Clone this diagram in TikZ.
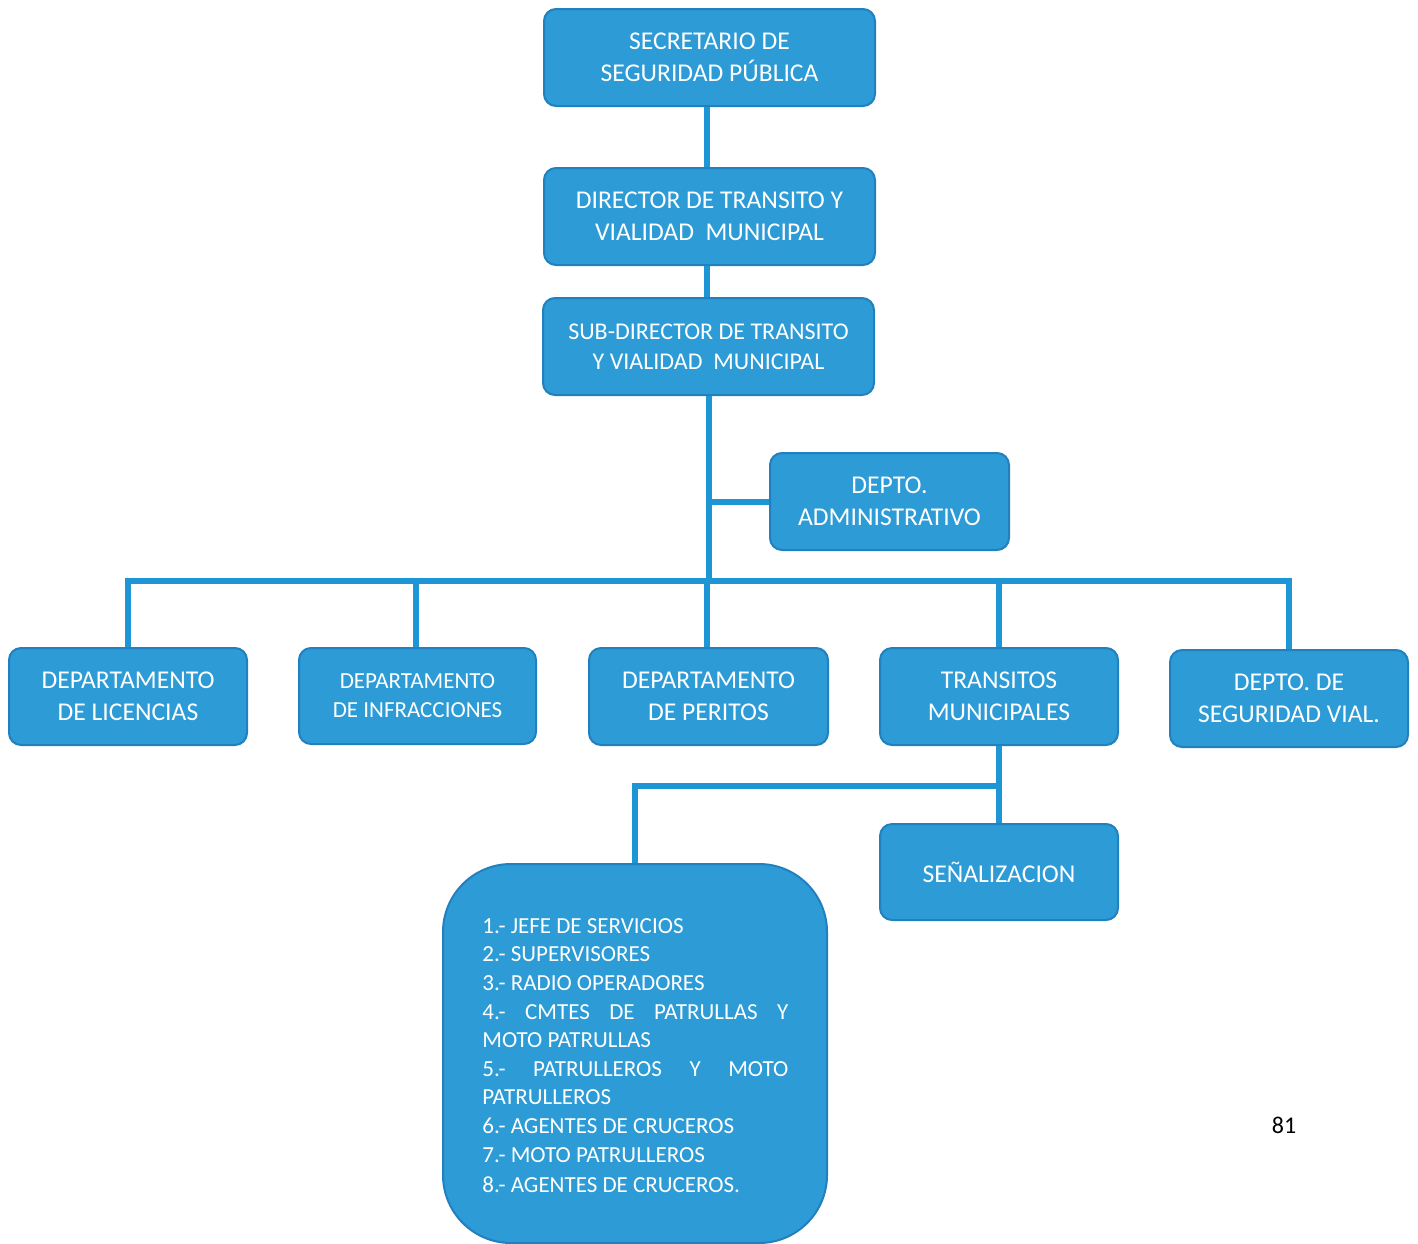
\documentclass[tikz,border=0pt]{standalone}
\usepackage{fontspec}
\setmainfont{Carlito}
\definecolor{boxfill}{RGB}{44,155,214}
\definecolor{boxdraw}{RGB}{34,128,190}
\definecolor{linkblue}{RGB}{30,150,214}
\begin{document}
\begin{tikzpicture}[x=0.5pt,y=-0.5pt,
  box/.style={draw=boxdraw, line width=1pt, fill=boxfill, rounded corners=6pt, text=white,
    align=center, inner sep=0pt, font=\fontsize{12.8}{16}\selectfont},
  link/.style={draw=linkblue, line width=3pt}]
\useasboundingbox[fill=white] (0,0) rectangle (1418,1243);
% top chain
\node[box, minimum width=165.5pt, minimum height=48.5pt] (sec) at (709.5,57.5) {SECRETARIO DE\\SEGURIDAD PÚBLICA};
\node[box, minimum width=165.5pt, minimum height=48.5pt] (dir) at (709.5,216.5) {DIRECTOR DE TRANSITO Y\\VIALIDAD\ \ MUNICIPAL};
\node[box, minimum width=165.5pt, minimum height=48.5pt, font=\fontsize{12}{15}\selectfont] (sub) at (708.5,346.5) {SUB-DIRECTOR DE TRANSITO\\Y VIALIDAD\ \ MUNICIPAL};
\node[box, minimum width=119.5pt, minimum height=48.5pt] (adm) at (889.5,501.5) {DEPTO.\\ADMINISTRATIVO};
% departments row
\node[box, minimum width=119pt, minimum height=48.5pt] (lic) at (128,696.5) {DEPARTAMENTO\\DE LICENCIAS};
\node[box, minimum width=118.5pt, minimum height=48pt, font=\fontsize{11.5}{14.5}\selectfont] (inf) at (417.5,696) {DEPARTAMENTO\\DE INFRACCIONES};
\node[box, minimum width=119.5pt, minimum height=48.5pt] (per) at (708.5,696.5) {DEPARTAMENTO\\DE PERITOS};
\node[box, minimum width=119pt, minimum height=48.5pt] (tra) at (999,696.5) {TRANSITOS\\MUNICIPALES};
\node[box, minimum width=119pt, minimum height=48.5pt] (seg) at (1289,698.5) {DEPTO. DE\\SEGURIDAD VIAL.};
\node[box, minimum width=119pt, minimum height=48pt] (sen) at (999,872) {SEÑALIZACION};
% big list box
\node[box, rounded corners=34pt, minimum width=192pt, minimum height=189.5pt] (lst) at (635,1053.5) {};
\node[text=white, anchor=north west, inner sep=0pt, align=left, text width=153pt,
  font=\fontsize{11.5}{14.3}\selectfont] (lsttxt) at (482,918) {\spaceskip=0pt\xspaceskip=0pt%
1.- JEFE DE SERVICIOS\\
2.- SUPERVISORES\\
3.- RADIO OPERADORES\\
\makebox[153pt][l]{4.-\hfill CMTES\hfill DE\hfill PATRULLAS\hfill Y}\\
MOTO PATRULLAS\\
\makebox[153pt][l]{5.-\hfill PATRULLEROS\hfill Y\hfill MOTO}\\
PATRULLEROS\\
6.- AGENTES DE CRUCEROS\\
7.- MOTO PATRULLEROS\\[1pt]
8.- AGENTES DE CRUCEROS.};
% connectors
\coordinate (bar) at (708,581);
\coordinate (tbar) at (999,786);
\draw[link] (sec.south -| 707,0) -- (dir.north -| 707,0);
\draw[link] (dir.south -| 707,0) -- (sub.north -| 707,0);
\draw[link] (sub.south -| 709,0) -- (bar -| 709,0);
\draw[link] (adm.west -| 709,0) -- (adm.west);
\draw[link, line cap=rect] (lic.north |- bar) -- (seg.north |- bar);
\draw[link] (lic.north |- bar) -- (lic.north);
\draw[link] (inf.north -| 416,0) -- (416,581);
\draw[link] (per.north -| 707,0) -- (707,581);
\draw[link] (tra.north) -- (tra.north |- bar);
\draw[link] (seg.north) -- (seg.north |- bar);
\draw[link] (tra.south) -- (sen.north);
\draw[link, line cap=rect] (tbar) -- (lst.north |- tbar);
\draw[link] (lst.north |- tbar) -- (lst.north);
% page number
\node[font=\fontsize{12}{14}\selectfont, inner sep=0pt] (pg) at (1284,1125) {81};
\end{tikzpicture}
\end{document}
